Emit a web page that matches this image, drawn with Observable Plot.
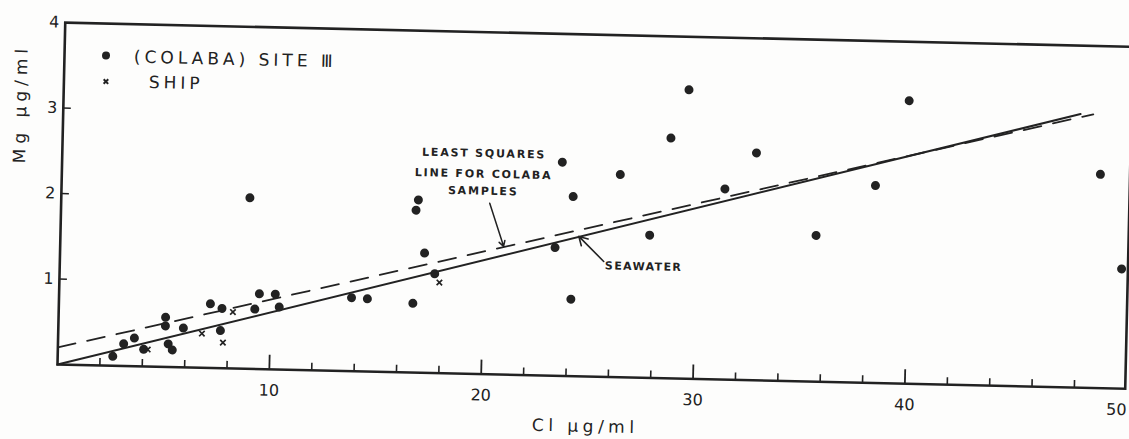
<!DOCTYPE html>
<html>
<head>
<meta charset="utf-8">
<script src="https://cdn.jsdelivr.net/npm/d3@7"></script>
<script src="https://cdn.jsdelivr.net/npm/@observablehq/plot@0.6"></script>
<style>
  html, body { margin: 0; padding: 0; background: #fdfdfc; }
  #chart { width: 1129px; height: 439px; overflow: hidden; }
  #chart svg { display: block; transform: rotate(1.3deg); transform-origin: 57px 364px; }
</style>
</head>
<body>
<div id="chart"></div>
<script>
// Colaba (Site III) samples: chloride vs magnesium, µg/ml
const colabaCl = [2.6, 3.1, 3.6, 4.05, 5.05, 5.05, 5.2, 5.4, 5.9, 7.15, 7.7, 7.65, 9.25, 9.45, 10.2, 10.4,
  13.8, 14.55, 8.9, 16.85, 16.75, 17.2, 16.7, 17.7, 23.6, 24.15, 23.35, 24.15, 26.35, 28.7, 29.5, 27.8,
  31.3, 32.75, 35.65, 38.4, 39.9, 49.0, 50.1];
const colabaMg = [0.11, 0.26, 0.33, 0.2, 0.58, 0.48, 0.27, 0.2, 0.46, 0.75, 0.7, 0.44, 0.7, 0.88, 0.88, 0.73,
  0.86, 0.85, 2.0, 2.02, 1.9, 1.4, 0.81, 1.16, 2.5, 2.1, 1.5, 0.9, 2.37, 2.81, 3.38, 1.67,
  2.23, 2.66, 1.71, 2.31, 3.31, 2.5, 1.4];

// Samples collected on board ship
const shipCl = [4.24, 6.78, 8.22, 7.78, 17.93];
const shipMg = [0.2, 0.4, 0.66, 0.3, 1.06];

// Seawater Mg/Cl ratio line and least-squares fit for the Colaba samples (end points)
const seawaterCl = [0, 48];
const seawaterMg = [0, 3.2];
const fitCl = [0, 48.6];
const fitMg = [0.2, 3.2];

// Axis ticks and labels
const xMinorTicks = [2, 4, 6, 8, 12, 14, 16, 18, 22, 24, 26, 28, 32, 34, 36, 38, 42, 44, 46, 48];
const xMajorTicks = [10, 20, 30, 40];
const xTickLabels = [10, 20, 30, 40, 50];
const yTicks = [1, 2, 3];
const yTickLabels = [1, 2, 3, 4];
const xTitle = "Cl µg/ml";
const yTitle = "Mg µg/ml";
const legendLabels = ["(COLABA) SITE Ⅲ", "SHIP"];
const fitNote = ["LEAST SQUARES", "LINE FOR COLABA", "SAMPLES"];
const seawaterNote = "SEAWATER";

const ink = "#222";
const zip = (xs, ys) => xs.map((x, i) => ({cl: x, mg: ys[i]}));
const colaba = zip(colabaCl, colabaMg);
const ship = zip(shipCl, shipMg);
const seawater = zip(seawaterCl, seawaterMg);
const fit = zip(fitCl, fitMg);

const frameH = 364 - 22;
const frameW = 1125 - 57;

const svg = Plot.plot({
  width: 1129,
  height: 439,
  marginLeft: 57,
  marginRight: 4,
  marginTop: 22,
  marginBottom: 75,
  x: {domain: [0, 50.4]},
  y: {domain: [0, 4]},
  style: {fontFamily: "'DejaVu Sans', sans-serif", fontSize: "16px", color: ink, background: "transparent", overflow: "visible"},
  marks: [
    // inward ticks
    Plot.tickX(xMinorTicks, {x: d => d, stroke: ink, strokeWidth: 1.6, insetTop: frameH - 7}),
    Plot.tickX(xMajorTicks, {x: d => d, stroke: ink, strokeWidth: 1.8, insetTop: frameH - 14}),
    Plot.tickY(yTicks, {y: d => d, stroke: ink, strokeWidth: 1.6, insetRight: frameW - 8}),
    Plot.axisX({ticks: xTickLabels, tickSize: 0, tickPadding: 15, tickFormat: d => String(d), fontSize: 16, label: null}),
    Plot.axisY({ticks: yTickLabels, tickSize: 0, tickPadding: 6, tickFormat: d => String(d), fontSize: 16, label: null}),
    Plot.frame({stroke: ink, strokeWidth: 2.6}),

    // reference lines
    Plot.line(seawater, {x: "cl", y: "mg", stroke: ink, strokeWidth: 2}),
    Plot.line(fit, {x: "cl", y: "mg", stroke: ink, strokeWidth: 1.8, strokeDasharray: "18,12"}),

    // samples
    Plot.dot(colaba, {x: "cl", y: "mg", r: 4.5, fill: ink}),
    Plot.dot(ship, {x: "cl", y: "mg", r: 2.6, symbol: "times", stroke: ink, strokeWidth: 1.7}),

    // annotations
    Plot.text(fitNote, {x: 19.9, y: [2.58, 2.34, 2.14], text: d => d, fontSize: 11, fontWeight: "bold", fill: ink}),
    Plot.arrow([0], {x1: 20.22, y1: 2.0, x2: 20.92, y2: 1.5, stroke: ink, strokeWidth: 1.5, headLength: 6}),
    Plot.text([seawaterNote], {x: 25.72, y: 1.3, textAnchor: "start", fontSize: 11, fontWeight: "bold", fill: ink}),
    Plot.arrow([0], {x1: 25.66, y1: 1.35, x2: 24.46, y2: 1.636, stroke: ink, strokeWidth: 1.6, headLength: 9}),

    // key
    Plot.dot([0], {frameAnchor: "top-left", dx: 41.5, dy: 32, r: 4, fill: ink}),
    Plot.text([legendLabels[0]], {frameAnchor: "top-left", dx: 69.5, dy: 33, textAnchor: "start", lineAnchor: "middle", fontSize: 17, fill: ink}),
    Plot.dot([0], {frameAnchor: "top-left", dx: 42, dy: 58, r: 2.2, symbol: "times", stroke: ink, strokeWidth: 2}),
    Plot.text([legendLabels[1]], {frameAnchor: "top-left", dx: 85, dy: 58, textAnchor: "start", lineAnchor: "middle", fontSize: 17, fill: ink}),

    // axis titles
    Plot.text([yTitle], {frameAnchor: "left", dx: -42.5, dy: -89, rotate: -90, textAnchor: "middle", lineAnchor: "middle", fontSize: 17, fill: ink}),
    Plot.text([xTitle], {frameAnchor: "bottom", dx: -5, dy: 50, textAnchor: "middle", lineAnchor: "middle", fontSize: 17, fill: ink})
  ]
});

// lettering is widely spaced
const spacing = new Map([
  [legendLabels[0], 4], [legendLabels[1], 4],
  [fitNote[0], 1.8], [fitNote[1], 1.8], [fitNote[2], 1.8],
  [seawaterNote, 1.4],
  [xTitle, 4.5], [yTitle, 5]
]);
svg.querySelectorAll("text").forEach(t => {
  const s = spacing.get(t.textContent);
  if (s != null) t.style.letterSpacing = s + "px";
});

document.getElementById("chart").append(svg);
</script>
</body>
</html>
